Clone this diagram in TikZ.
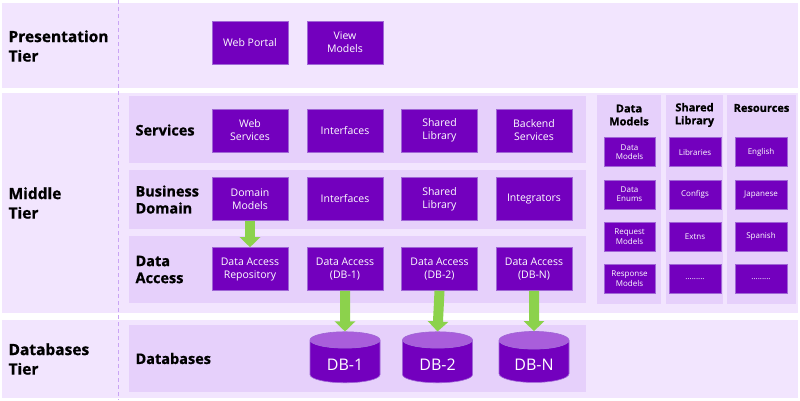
\documentclass[tikz,border=0pt]{standalone}
\usepackage{fontspec}
\setmainfont{Open Sans}[BoldFeatures={FakeBold=0.8}]
\usetikzlibrary{arrows.meta,shapes.geometric}
\definecolor{bandc}{HTML}{F2E5FE}
\definecolor{panelc}{HTML}{E6D0FB}
\definecolor{boxc}{HTML}{7300BE}
\definecolor{boxedge}{HTML}{A066D6}
\definecolor{dbtop}{HTML}{A95EDB}
\definecolor{arrowc}{HTML}{8CD24C}
\definecolor{dashc}{HTML}{C9A4F4}
\newcommand{\moreitems}{.........}
\newcommand{\dbtext}[1]{\raisebox{-3pt}[\height][\depth]{#1}}

\begin{document}
\begin{tikzpicture}[x=1pt, y=-1pt,
  comp/.style={fill=boxc, draw=boxedge, line width=0.6pt, text=white, align=center,
    minimum width=76pt, minimum height=43pt, inner sep=1pt, font=\fontsize{10.5}{13}\selectfont},
  mini/.style={comp, minimum width=52pt, minimum height=29pt, font=\fontsize{8}{9.5}\selectfont},
  dbcyl/.style={cylinder, shape border rotate=90, aspect=0.45, draw=boxedge, line width=0.6pt,
    cylinder uses custom fill, cylinder body fill=boxc, cylinder end fill=dbtop,
    minimum width=70pt, minimum height=51pt, inner sep=0pt, text=white, font=\fontsize{16}{18}\selectfont},
  tier/.style={anchor=west, align=left, font=\fontsize{15.5}{19.5}\selectfont\bfseries},
  layer/.style={anchor=west, align=left, font=\fontsize{14.5}{17}\selectfont\bfseries},
  colhead/.style={align=center, font=\fontsize{11}{13}\selectfont\bfseries},
  flow/.style={draw=arrowc, line width=10pt, -{Triangle[width=20pt,length=10pt]}}]
  \useasboundingbox (0,0) rectangle (800,400);

  % tier bands
  \fill [bandc] (2,3) rectangle (798,88);
  \fill [bandc] (2,93) rectangle (798,313);
  \fill [bandc] (2,320) rectangle (798,398);
  \draw [dashc, line width=1pt, dash pattern=on 4pt off 3pt] (118,0) -- (118,400);

  % layer panels
  \fill [panelc] (129,96) rectangle (586,163);
  \fill [panelc] (129,170) rectangle (586,229);
  \fill [panelc] (129,236) rectangle (586,303);
  \fill [panelc] (129,325) rectangle (586,392);
  \fill [panelc] (597,95) rectangle (661,304);
  \fill [panelc] (666,95) rectangle (723,304);
  \fill [panelc] (727,95) rectangle (796,304);

  % tier and layer labels
  \node [tier] (presTier) at (5,46) {Presentation\\Tier};
  \node [tier] (midTier) at (5,203) {Middle\\Tier};
  \node [tier] (dbTier) at (5,359) {Databases\\Tier};
  \node [layer] (svcLabel) at (132,130) {Services};
  \node [layer] (bizLabel) at (132,199.5) {Business\\Domain};
  \node [layer] (daLabel) at (132,269.5) {Data\\Access};
  \node [layer] (dbLabel) at (132,358.5) {Databases};

  % presentation tier
  \node [comp] (webPortal) at (250,42.5) {Web Portal};
  \node [comp] (viewModels) at (345,42.5) {View\\Models};

  % middle tier
  \node [comp] (webSvc) at (250,130.5) {Web\\Services};
  \node [comp] (svcIf) at (345,130.5) {Interfaces};
  \node [comp] (svcLib) at (439.5,130.5) {Shared\\Library};
  \node [comp] (backend) at (534,130.5) {Backend\\Services};

  \node [comp] (domModels) at (250,199) {Domain\\Models};
  \node [comp] (bizIf) at (345,199) {Interfaces};
  \node [comp] (bizLib) at (439.5,199) {Shared\\Library};
  \node [comp] (integr) at (534,199) {Integrators};

  \node [comp] (daRepo) at (250,269) {Data Access\\Repository};
  \node [comp] (daOne) at (345,269) {Data Access\\(DB-1)};
  \node [comp] (daTwo) at (439.5,269) {Data Access\\(DB-2)};
  \node [comp] (daN) at (534,269) {Data Access\\(DB-N)};

  % side columns
  \node [colhead] (dmHead) at (629,115) {Data\\Models};
  \node [colhead] (slHead) at (694.5,115) {Shared\\Library};
  \node [colhead] (resHead) at (761.5,108) {Resources};
  \foreach \t [count=\i] in {{Data\\Models},{Data\\Enums},{Request\\Models},{Response\\Models}}
    \node [mini, minimum width=51pt] (dm\i) at (629.5,{152+42.3*(\i-1)}) {\t};
  \foreach \t [count=\i] in {Libraries,Configs,Extns,\moreitems}
    \node [mini] (sl\i) at (695,{152+42.3*(\i-1)}) {\t};
  \foreach \t [count=\i] in {English,Japanese,Spanish,\moreitems}
    \node [mini] (res\i) at (761,{152+42.3*(\i-1)}) {\t};

  % databases
  \node [dbcyl] (dbOne) at (345,361.5) {\dbtext{DB-1}};
  \node [dbcyl] (dbTwo) at (437.5,361.5) {\dbtext{DB-2}};
  \node [dbcyl] (dbN) at (534,361.5) {\dbtext{DB-N}};

  % data flow
  \draw [flow] (domModels.south) -- (daRepo.north);
  \draw [flow] (daOne.south) -- (dbOne.north);
  \draw [flow] (daTwo.south) -- (dbTwo.north);
  \draw [flow] (daN.south) -- (dbN.north);
\end{tikzpicture}
\end{document}
